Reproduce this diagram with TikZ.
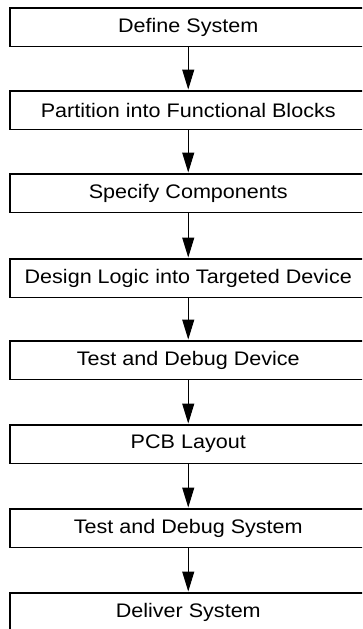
\documentclass[tikz,border=0pt]{standalone}
\usepackage{fontspec}
\setmainfont[FakeStretch=1.1]{Liberation Sans}
\usetikzlibrary{arrows.meta}
\begin{document}
\begin{tikzpicture}[x=1pt,y=1pt,
  stepbox/.style={draw, line width=1.5pt, minimum width=357pt, minimum height=38.5pt,
    inner sep=0pt, anchor=north west, font=\fontsize{19.6}{21}\selectfont},
  flow/.style={line width=1pt, -{Triangle[length=20pt,width=12pt]}, shorten >=0.5pt}]
\useasboundingbox (0,0) rectangle (362,-629);
\clip (0,0) rectangle (362,-629);
\node[stepbox] (b1) at (9,-7) {Define System};
\node[stepbox] (b2) at (9,-90) {Partition into Functional Blocks};
\node[stepbox] (b3) at (9,-173) {Specify Components};
\node[stepbox] (b4) at (9,-258) {Design Logic into Targeted Device};
\node[stepbox] (b5) at (9,-340) {Test and Debug Device};
\node[stepbox] (b6) at (9,-424) {PCB Layout};
\node[stepbox] (b7) at (9,-508) {Test and Debug System};
\node[stepbox] (b8) at (9,-592) {Deliver System};
\foreach \a/\b in {b1/b2,b2/b3,b3/b4,b4/b5,b5/b6,b6/b7,b7/b8}
  \draw[flow] (\a.south) -- (\b.north);
\end{tikzpicture}
\end{document}
